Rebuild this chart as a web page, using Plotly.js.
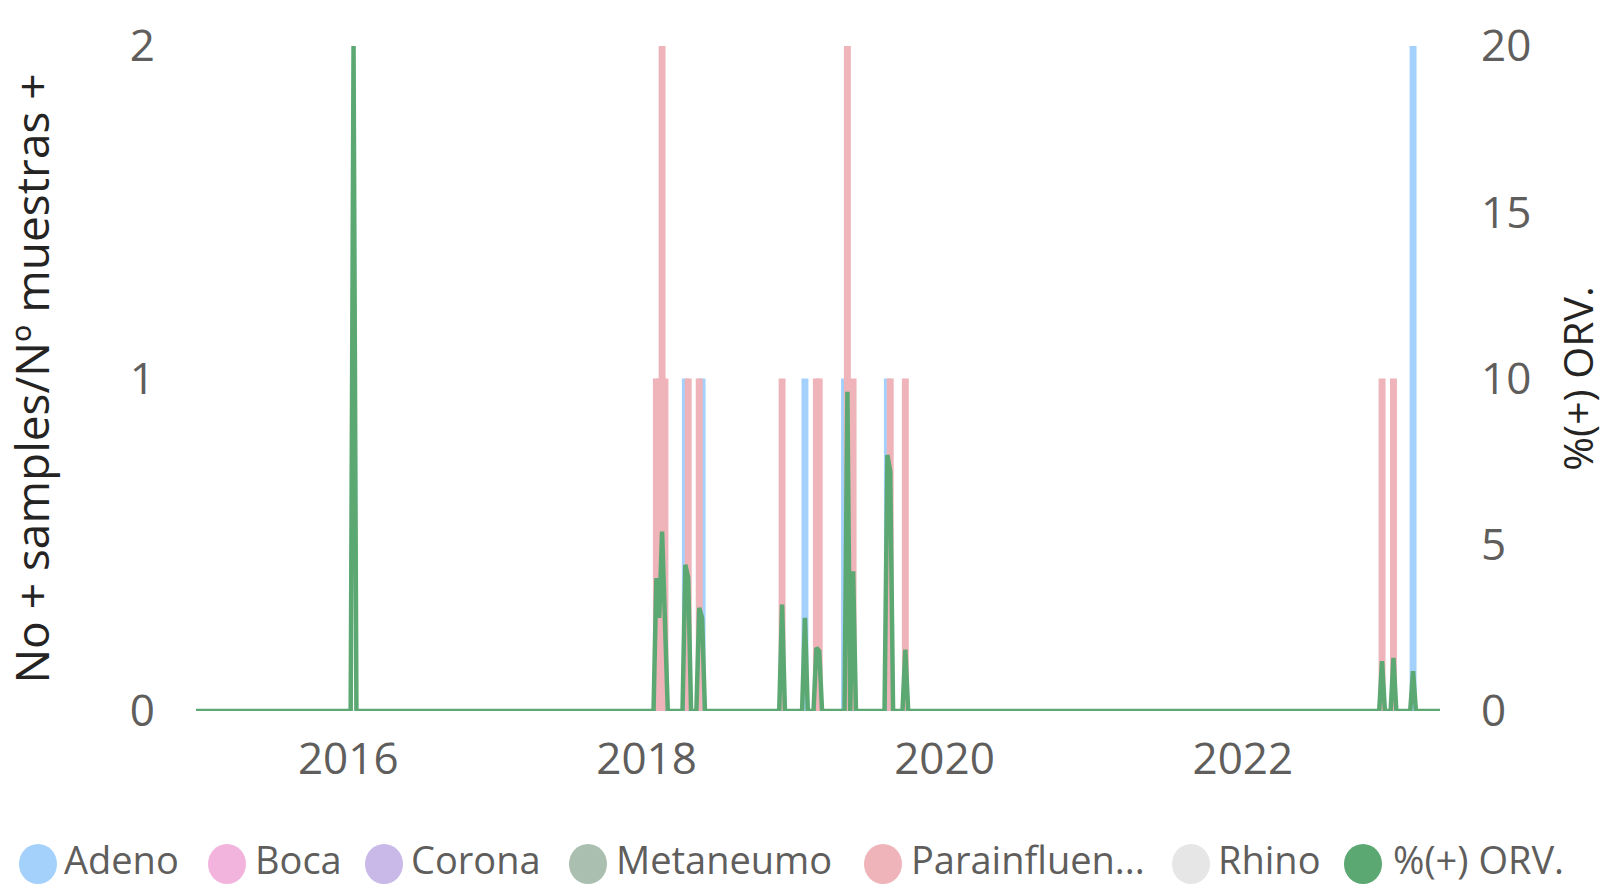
<!DOCTYPE html>
<html>
<head>
<meta charset="utf-8">
<script src="https://cdn.plot.ly/plotly-3.0.1.min.js"></script>
<style>
html,body{margin:0;padding:0;background:#fff;}
#chart{width:1605px;height:887px;}
</style>
</head>
<body>
<div id="chart"></div>
<script>
// ---- Data ----
const adenoDates  = ['2018-04-06','2018-05-17','2019-01-24','2019-05-01','2019-08-14','2023-02-22'];
const adenoValues = [1,1,1,1,1,2];

const paraDates  = ['2018-01-25','2018-02-01','2018-02-08','2018-02-15','2018-04-13','2018-05-10',
                    '2018-11-29','2019-02-21','2019-02-28','2019-05-08','2019-05-22','2019-08-21',
                    '2019-09-27','2022-12-08','2023-01-05'];
const paraValues = [1,1,2,1,1,1,1,1,1,2,1,1,1,1,1];

const orvDates = ['2014-12-24',
  '2016-01-07','2016-01-14','2016-01-21',
  '2018-01-18','2018-01-25','2018-02-01','2018-02-08','2018-02-15','2018-02-22',
  '2018-03-30','2018-04-06','2018-04-13','2018-04-20',
  '2018-05-03','2018-05-10','2018-05-17','2018-05-24',
  '2018-11-22','2018-11-29','2018-12-06',
  '2019-01-17','2019-01-24','2019-01-31',
  '2019-02-14','2019-02-21','2019-02-28','2019-03-07',
  '2019-05-01','2019-05-08','2019-05-15','2019-05-22','2019-05-29',
  '2019-08-07','2019-08-14','2019-08-21','2019-08-28',
  '2019-09-20','2019-09-27','2019-10-04',
  '2022-12-01','2022-12-08','2022-12-15',
  '2022-12-29','2023-01-05','2023-01-12',
  '2023-02-15','2023-02-22','2023-03-01',
  '2023-04-29'];
const orvValues = [0,
  0,20,0,
  0,4.0,2.8,5.4,2.7,0,
  0,4.4,4.0,0,
  0,3.1,2.8,0,
  0,3.2,0,
  0,2.8,0,
  0,1.9,1.8,0,
  0,9.6,0,4.2,0,
  0,7.7,7.2,0,
  0,1.85,0,
  0,1.5,0,
  0,1.6,0,
  0,1.2,0,
  0];

const legendNames  = ['Adeno','Boca','Corona','Metaneumo','Parainfluen...','Rhino','%(+) ORV.'];
const legendColors = ['#A3D1FB','#F2B4DC','#C8B9E8','#AABFB0','#EFB4B9','#E6E6E6','#5BA873'];

const xTickYears = ['2016-01-01','2018-01-01','2020-01-01','2022-01-01'];
const xTickText  = ['2016','2018','2020','2022'];
const yLeftTicks = [0,1,2];
const yRightTicks = [0,5,10,15,20];

// ---- Styling / layout constants ----
const FONT = "'Segoe UI', 'Open Sans', sans-serif";
const BAR_W = 17 * 86400000;
const W = 1605, H = 887;
const M = {l:196, r:165, t:46, b:176};
const PW = W - M.l - M.r, PH = H - M.t - M.b;
// legend layout (pixel positions)
const legendCircleX = [38, 227, 384, 588, 883, 1191, 1363];
const legendTextX   = [63, 254, 410, 615, 910, 1217, 1392];
const legendY = 859;
const legendCircleY = 864;

const traces = [
  {type:'bar', name:'Adeno', x:adenoDates, y:adenoValues, width:BAR_W,
   marker:{color:legendColors[0], line:{width:0}}, yaxis:'y', showlegend:false},
  {type:'bar', name:'Parainfluenza', x:paraDates, y:paraValues, width:BAR_W,
   marker:{color:legendColors[4], line:{width:0}}, yaxis:'y', showlegend:false},
  {type:'scatter', mode:'lines', name:'%(+) ORV.', x:orvDates, y:orvValues, yaxis:'y2',
   line:{color:legendColors[6], width:4.5}, showlegend:false}
];

const shapes = [], annotations = [];
const py = (H - M.b - legendY) / PH;
const pyc = (H - M.b - legendCircleY) / PH;
legendNames.forEach((n,i)=>{
  shapes.push({type:'circle', xref:'paper', yref:'paper', xsizemode:'pixel', ysizemode:'pixel',
    xanchor:(legendCircleX[i]-M.l)/PW, yanchor:pyc, x0:-19, x1:19, y0:-20, y1:20,
    fillcolor:legendColors[i], line:{width:0}});
  annotations.push({xref:'paper', yref:'paper', x:(legendTextX[i]-M.l)/PW, y:py,
    xanchor:'left', yanchor:'middle', showarrow:false, text:n, borderpad:0,
    font:{family:FONT, size:38, color:'#605E5C'}});
});

const layout = {
  width:W, height:H, margin:M,
  paper_bgcolor:'#fff', plot_bgcolor:'#fff',
  barmode:'overlay', showlegend:false,
  font:{family:FONT},
  xaxis:{type:'date', range:['2014-12-24','2023-04-29'], tickvals:xTickYears, ticktext:xTickText,
    showgrid:false, zeroline:false, showline:false, ticks:'',
    tickfont:{family:FONT, size:44, color:'#605E5C'}, ticklabelstandoff:18},
  yaxis:{range:[0,2], tickvals:yLeftTicks, showgrid:false, zeroline:false, showline:false, ticks:'',
    tickfont:{family:FONT, size:44, color:'#605E5C'}, ticklabelstandoff:40,
    title:{text:'No + samples/Nº muestras +', font:{family:FONT, size:46, color:'#252423'}, standoff:68}},
  yaxis2:{range:[0,20], tickvals:yRightTicks, overlaying:'y', side:'right',
    showgrid:false, zeroline:false, showline:false, ticks:'',
    tickfont:{family:FONT, size:44, color:'#605E5C'}, ticklabelstandoff:40,
    title:{text:'%(+) ORV.', font:{family:FONT, size:41, color:'#252423'}, standoff:38}},
  shapes:shapes, annotations:annotations
};

Plotly.newPlot('chart', traces, layout, {displayModeBar:false, staticPlot:true});
</script>
</body>
</html>
